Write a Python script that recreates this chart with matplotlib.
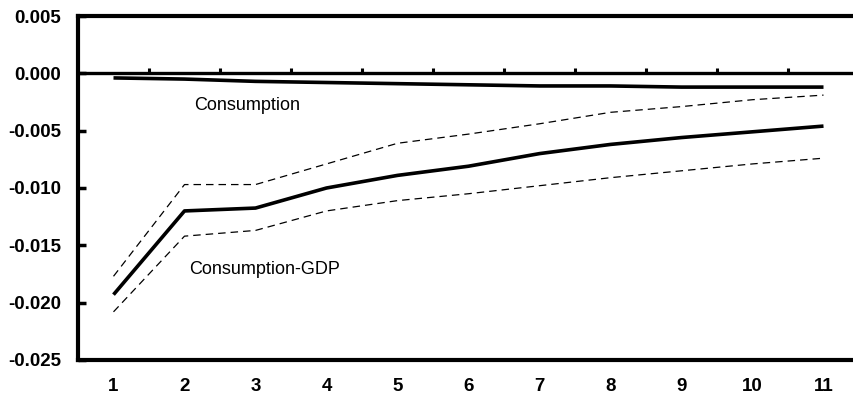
import numpy as np
import matplotlib
matplotlib.use("Agg")
import matplotlib.pyplot as plt

# Impulse responses
periods = [1, 2, 3, 4, 5, 6, 7, 8, 9, 10, 11]
consumption = [-0.0004, -0.0005, -0.0007, -0.0008, -0.0009, -0.0010,
               -0.0011, -0.0011, -0.0012, -0.0012, -0.0012]
cons_gdp = [-0.0193, -0.0120, -0.01175, -0.0100, -0.0089, -0.0081,
            -0.0070, -0.0062, -0.0056, -0.0051, -0.0046]
cons_gdp_upper = [-0.0177, -0.0097, -0.0097, -0.0079, -0.0061, -0.0053,
                  -0.0044, -0.0034, -0.0029, -0.0023, -0.0019]
cons_gdp_lower = [-0.0208, -0.0142, -0.0137, -0.0120, -0.0111, -0.0105,
                  -0.0098, -0.0091, -0.0085, -0.0079, -0.0074]
y_ticks = [0.005, 0.000, -0.005, -0.010, -0.015, -0.020, -0.025]

plt.rcParams["font.family"] = ["Liberation Sans", "DejaVu Sans"]

fig = plt.figure(figsize=(8.54, 4.01), dpi=100)
ax = fig.add_axes([78 / 854, 41 / 401, 776 / 854, 344 / 401])

ax.plot(periods, consumption, color="black", lw=2.6, solid_capstyle="butt")
ax.plot(periods, cons_gdp, color="black", lw=2.6, solid_capstyle="butt")
ax.plot(periods, cons_gdp_upper, color="black", lw=0.9, dashes=(6, 4))
ax.plot(periods, cons_gdp_lower, color="black", lw=0.9, dashes=(6, 4))

# zero line with small ticks at the category boundaries
ax.axhline(0, color="black", lw=2.4)
bounds = np.array(periods[:-1]) + 0.5
ax.vlines(bounds, 0, 0.0005, color="black", lw=2.2)

ax.text(2.14, -0.0028, "Consumption", fontsize=13, ha="left", va="center")
ax.text(2.06, -0.0171, "Consumption-GDP", fontsize=13, ha="left", va="center")

ax.set_xlim(0.5, 0.5 + 776 / 71)
ax.set_ylim(-0.025, 0.005)
ax.set_yticks(y_ticks)
ax.set_yticklabels([f"{v:.3f}" for v in y_ticks], fontsize=13.5, fontweight="bold")
ax.set_xticks(periods)
ax.set_xticklabels([str(p) for p in periods], fontsize=13.5, fontweight="bold")
ax.tick_params(axis="y", direction="in", length=6, width=2.5, pad=12)
ax.tick_params(axis="x", length=0, pad=13)

ax.spines["right"].set_visible(False)
for side in ["left", "top", "bottom"]:
    ax.spines[side].set_linewidth(3)

plt.savefig("out.png", dpi=100)
